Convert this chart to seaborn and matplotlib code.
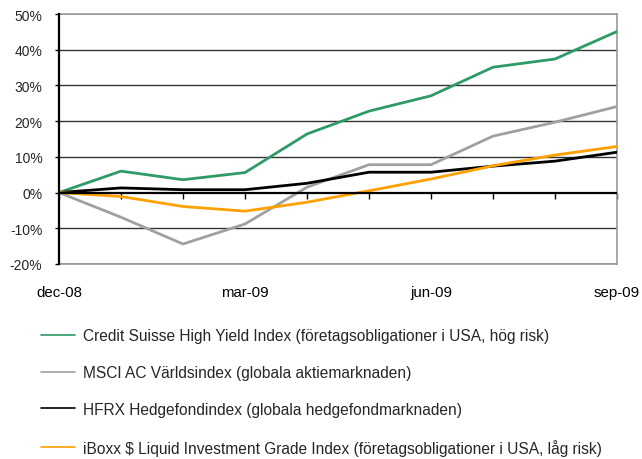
import matplotlib
matplotlib.use("Agg")
import matplotlib.pyplot as plt
from matplotlib.lines import Line2D
from matplotlib.ticker import FuncFormatter
import seaborn as sns
import pandas as pd

months = ["dec-08", "jan-09", "feb-09", "mar-09", "apr-09", "may-09",
          "jun-09", "jul-09", "aug-09", "sep-09"]
tick_labels = ["dec-08", "mar-09", "jun-09", "sep-09"]

credit_suisse = [0.0, 6.0, 3.6, 5.6, 16.4, 22.8, 27.1, 35.1, 37.4, 45.1]
msci = [0.0, -6.9, -14.4, -8.8, 1.5, 7.8, 7.8, 15.8, 19.7, 24.1]
hfrx = [0.0, 1.3, 0.8, 0.8, 2.6, 5.7, 5.7, 7.4, 8.8, 11.3]
iboxx = [0.0, -1.1, -3.9, -5.2, -2.7, 0.5, 3.8, 7.5, 10.5, 12.9]

names = [
    "Credit Suisse High Yield Index (företagsobligationer i USA, hög risk)",
    "MSCI AC Världsindex (globala aktiemarknaden)",
    "HFRX Hedgefondindex (globala hedgefondmarknaden)",
    "iBoxx $ Liquid Investment Grade Index (företagsobligationer i USA, låg risk)",
]
colors = ["#2e9a66", "#a0a0a0", "#000000", "#ffa000"]

series = [credit_suisse, msci, hfrx, iboxx]
rows = []
for name, vals in zip(names, series):
    for i, (m, v) in enumerate(zip(months, vals)):
        rows.append({"idx": i, "month": m, "value": v, "series": name})
df = pd.DataFrame(rows)

sns.set_theme(style="white")
plt.rcParams["font.family"] = ["Liberation Sans", "DejaVu Sans"]

fig = plt.figure(figsize=(6.42, 4.6), dpi=100)
ax = fig.add_axes([59 / 642, 1 - 265 / 460, (617 - 59) / 642, (265 - 15) / 460])

# gridlines
for y in [10, 20, 30, 40, -10]:
    ax.axhline(y, color="#333333", lw=1.0, zorder=1)
for y in [50, -20]:
    ax.axhline(y, color="#999999", lw=1.2, zorder=1)

sns.lineplot(data=df, x="idx", y="value", hue="series", hue_order=names,
             palette=colors, lw=2.0, ax=ax, legend=False, zorder=3,
             sort=False)

# zero axis with ticks at each month
ax.axhline(0, color="black", lw=1.6, zorder=4)
sec = ax.secondary_xaxis(20 / 70)
sec.set_xticks(range(len(months)))
sec.set_xticklabels([])
sec.tick_params(axis="x", direction="out", length=4, width=1, color="black")
sec.spines["bottom"].set_visible(False)
sec.spines["top"].set_visible(False)

ax.set_xlim(0, len(months) - 1)
ax.set_ylim(-20, 50)
ax.set_yticks(range(-20, 51, 10))
ax.yaxis.set_major_formatter(FuncFormatter(lambda v, p: f"{int(v)}%"))
ax.set_xticks([months.index(t) for t in tick_labels])
ax.set_xticklabels(tick_labels)
ax.tick_params(axis="x", length=0, pad=15, labelsize=10.8, colors="#000000")
ax.tick_params(axis="y", direction="out", length=3, width=1, color="black",
               labelsize=10, pad=9, left=True)
ax.set_xlabel("")
ax.set_ylabel("")

for s in ["top", "bottom", "right"]:
    ax.spines[s].set_color("#999999")
    ax.spines[s].set_linewidth(1.2)
ax.spines["left"].set_color("black")
ax.spines["left"].set_linewidth(1.6)
ax.spines["left"].set_zorder(5)

handles = [Line2D([0], [0], color=c, lw=1.2) for c in colors]
fig.legend(handles, names, loc="upper left",
           bbox_to_anchor=(35 / 642, 1 - 323 / 460),
           frameon=False, fontsize=11.2, handlelength=2.2, handletextpad=0.5,
           labelspacing=1.4, borderaxespad=0)

fig.savefig("out.png", dpi=100)
